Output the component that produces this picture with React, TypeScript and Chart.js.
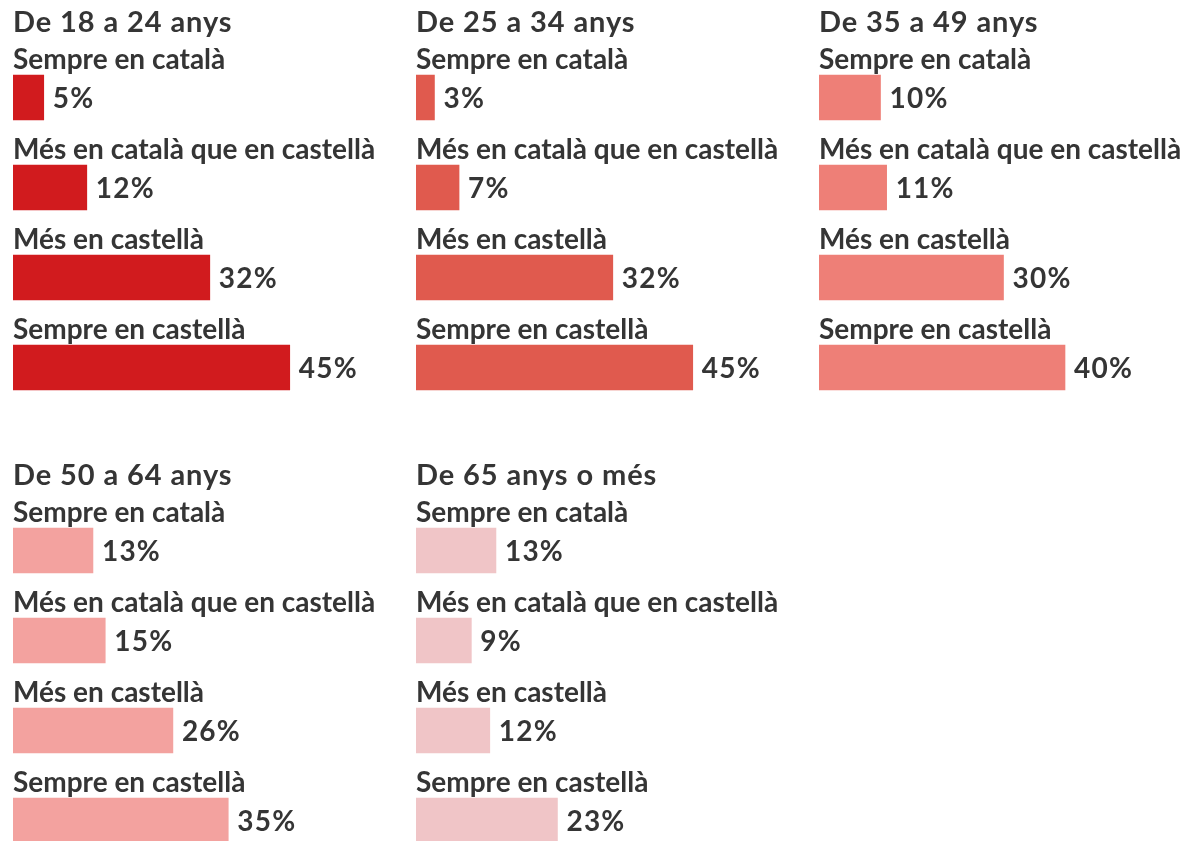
import React, { useEffect, useRef } from "react";
import { Chart, registerables } from "chart.js";

Chart.register(...registerables);

const categories = [
  "Sempre en català",
  "Més en català que en castellà",
  "Més en castellà",
  "Sempre en castellà",
];
const groupTitles = [
  "De 18 a 24 anys",
  "De 25 a 34 anys",
  "De 35 a 49 anys",
  "De 50 a 64 anys",
  "De 65 anys o més",
];
const values18to24 = [5, 12, 32, 45];
const values25to34 = [3, 7, 32, 45];
const values35to49 = [10, 11, 30, 40];
const values50to64 = [13, 15, 26, 35];
const values65plus = [13, 9, 12, 23];
const groupColors = ["#d11b1e", "#e05a4e", "#ee7f77", "#f3a29f", "#f0c5c7"];

const groupValues = [values18to24, values25to34, values35to49, values50to64, values65plus];

const FONT = "Lato, 'Liberation Sans', sans-serif";
const TEXT = "#353535";
const PANEL_W = 375;
const PANEL_H = 453;

function Panel({ title, values, color }: { title: string; values: number[]; color: string }) {
  const ref = useRef<HTMLCanvasElement | null>(null);
  useEffect(() => {
    if (!ref.current) return;
    const labelPlugin = {
      id: "panelLabels",
      afterDraw(chart: any) {
        const ctx = chart.ctx;
        const meta = chart.getDatasetMeta(0);
        const left = chart.chartArea.left;
        ctx.save();
        ctx.fillStyle = TEXT;
        ctx.textAlign = "left";
        ctx.textBaseline = "alphabetic";
        ctx.font = `bold 29px ${FONT}`;
        (ctx as any).letterSpacing = "0.9px";
        ctx.fillText(title, left, 32);
        meta.data.forEach((bar: any, i: number) => {
          const top = bar.y - bar.height / 2;
          ctx.font = `bold 28px ${FONT}`;
          (ctx as any).letterSpacing = "0px";
          ctx.textBaseline = "alphabetic";
          ctx.fillText(String(chart.data.labels[i]), left, top - 6);
          ctx.font = `bold 28px ${FONT}`;
          (ctx as any).letterSpacing = "1.2px";
          ctx.textBaseline = "middle";
          ctx.fillText(`${values[i]}%`, bar.x + 9, bar.y + 1);
        });
        ctx.restore();
      },
    };
    const chart = new Chart(ref.current, {
      type: "bar",
      data: {
        labels: categories,
        datasets: [
          {
            data: values,
            backgroundColor: color,
            borderWidth: 0,
            barThickness: 45,
          },
        ],
      },
      options: {
        indexAxis: "y",
        responsive: false,
        animation: false,
        layout: { padding: { left: 0, right: PANEL_W - 369, top: 52.5, bottom: PANEL_H - 412.5 } },
        scales: {
          x: { display: false, min: 0, max: 60 },
          y: { display: false },
        },
        plugins: {
          legend: { display: false },
          tooltip: { enabled: false },
          title: { display: false },
        },
      },
      plugins: [labelPlugin],
    });
    return () => chart.destroy();
  }, [title, values, color]);
  return <canvas ref={ref} width={PANEL_W} height={PANEL_H} style={{ display: "block", width: PANEL_W, height: PANEL_H }} />;
}

export default function App() {
  return (
    <div
      style={{
        position: "fixed",
        left: 0,
        top: 0,
        width: 1185,
        height: 841,
        overflow: "hidden",
        background: "#ffffff",
      }}
    >
      {groupTitles.map((t, i) => (
        <div
          key={t}
          style={{
            position: "absolute",
            left: 13 + (i % 3) * 403,
            top: Math.floor(i / 3) * 453,
            width: PANEL_W,
            height: PANEL_H,
          }}
        >
          <Panel title={t} values={groupValues[i]} color={groupColors[i]} />
        </div>
      ))}
    </div>
  );
}
